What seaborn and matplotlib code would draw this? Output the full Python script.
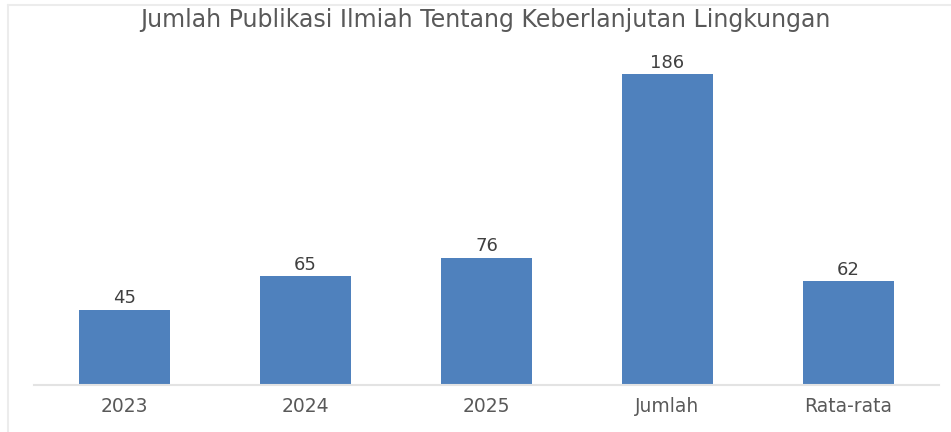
import matplotlib
matplotlib.use("Agg")
import matplotlib.pyplot as plt
from matplotlib.lines import Line2D
import seaborn as sns
import pandas as pd

categories = ["2023", "2024", "2025", "Jumlah", "Rata-rata"]
values = [45, 65, 76, 186, 62]
title = "Jumlah Publikasi Ilmiah Tentang Keberlanjutan Lingkungan"

sns.set_theme(style="white")
plt.rcParams["font.family"] = ["DejaVu Sans"]

df = pd.DataFrame({"kategori": categories, "jumlah": values})

fig = plt.figure(figsize=(9.51, 4.32), dpi=100)
ax = fig.add_axes([34 / 951, 47 / 432, 905 / 951, 334 / 432])

sns.barplot(data=df, x="kategori", y="jumlah", color="#4F81BD",
            saturation=1, width=0.5, edgecolor="none", ax=ax)

ax.set_ylim(0, 200)
ax.set_xlim(-0.5, len(categories) - 0.5)
ax.set_xlabel("")
ax.set_ylabel("")
ax.set_yticks([])
for side in ["top", "right", "left"]:
    ax.spines[side].set_visible(False)
ax.spines["bottom"].set_color("#e3e3e3")
ax.spines["bottom"].set_linewidth(1.5)
ax.tick_params(axis="x", length=0, pad=9, labelsize=13.5, labelcolor="#595959")

for container in ax.containers:
    ax.bar_label(container, labels=[str(v) for v in values], padding=2,
                 fontsize=13, color="#404040")

fig.text(485 / 951, 1 - 20 / 432, title, ha="center", va="center",
         fontsize=17, color="#595959")

# light frame around the chart area
fig.add_artist(Line2D([7.5 / 951, 1], [1 - 4.5 / 432, 1 - 4.5 / 432],
                      transform=fig.transFigure, color="#ececec", lw=1.5))
fig.add_artist(Line2D([7.5 / 951, 7.5 / 951], [0, 1 - 4.5 / 432],
                      transform=fig.transFigure, color="#ececec", lw=1.5))

fig.savefig("out.png", dpi=100)
